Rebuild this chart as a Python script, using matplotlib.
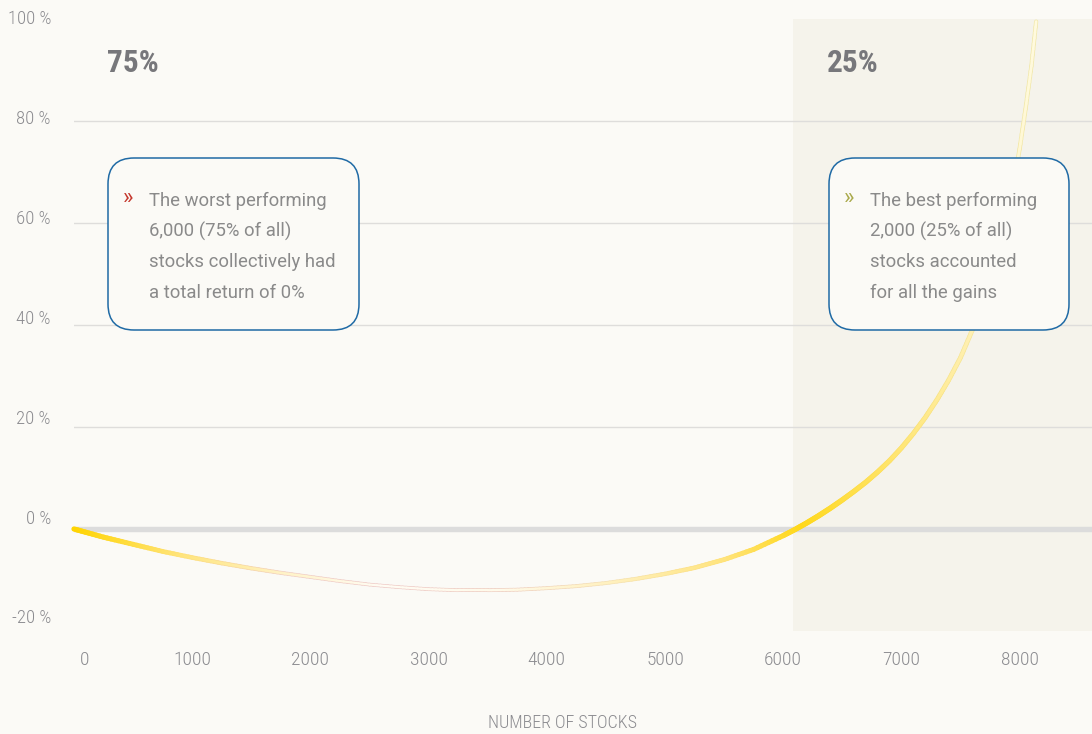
import numpy as np
import matplotlib
matplotlib.use("Agg")
import matplotlib.pyplot as plt
from matplotlib.collections import LineCollection
from matplotlib.patches import FancyBboxPatch
from matplotlib import font_manager as fm
from matplotlib.transforms import blended_transform_factory, ScaledTranslation

# ---------------- data ----------------
stocks = [0, 250, 500, 750, 1000, 1250, 1500, 1750, 2000, 2250, 2500, 2750, 3000, 3250, 3500,
          3750, 4000, 4250, 4500, 4750, 5000, 5250, 5500, 5750, 6000, 6100, 6200, 6300,
          6400, 6500, 6600, 6700, 6800, 6900, 7000, 7100, 7200, 7300, 7400, 7500, 7600,
          7700, 7800, 7900, 8000, 8050, 8100, 8140]
cum_return = [0.0, -1.6, -3.0, -4.4, -5.6, -6.7, -7.7, -8.6, -9.4, -10.2, -10.9, -11.4, -11.8, -12.0, -12.0,
              -11.9, -11.6, -11.2, -10.6, -9.8, -8.8, -7.6, -6.0, -4.0, -1.3, -0.1, 1.2, 2.6,
              4.1, 5.7, 7.4, 9.2, 11.2, 13.4, 15.9, 18.7, 21.8, 25.3, 29.2, 33.6, 39.0,
              44.8, 51.8, 61.5, 74.5, 82.3, 90.8, 99.5]
y_ticks = [100, 80, 60, 40, 20, 0, -20]
y_tick_labels = ["100 %", "80 %", "60 %", "40 %", "20 %", "0 %", "-20 %"]
x_ticks = [0, 1000, 2000, 3000, 4000, 5000, 6000, 7000, 8000]
x_tick_labels = ["0", "1000", "2000", "3000", "4000", "5000", "6000", "7000", "8000"]
split_at = 6080
x_label = "NUMBER OF STOCKS"
left_pct, right_pct = "75%", "25%"
left_note = ["The worst performing", "6,000 (75% of all)", "stocks collectively had", "a total return of 0%"]
right_note = ["The best performing", "2,000 (25% of all)", "stocks accounted", "for all the gains"]

# ---------------- fonts ----------------
names = {f.name for f in fm.fontManager.ttflist}
cond_fam = None
for cand in ["Roboto Condensed", "Liberation Sans Narrow", "Open Sans Condensed", "DejaVu Sans Condensed"]:
    if cand in names:
        cond_fam = cand
        break
cond_kw = {"family": [cond_fam, "DejaVu Sans"]} if cond_fam else {"family": ["DejaVu Sans"], "fontstretch": "condensed"}
body_fam = ["Roboto", "DejaVu Sans"]

BG = "#FBFAF6"
SHADE = "#F5F3EB"
GRID = "#DEDDDB"
ZERO = "#DCDCDC"
LBL = "#8C8C90"
TXT = "#8A8A8A"
BOX = "#1F6AA5"

W, H, DPI = 1092, 734, 100
fig = plt.figure(figsize=(W / DPI, H / DPI), dpi=DPI, facecolor=BG)

ax_left, ax_right, ax_top, ax_bot = 74, 1092, 19, 631
ax = fig.add_axes([ax_left / W, 1 - ax_bot / H, (ax_right - ax_left) / W, (ax_bot - ax_top) / H])
ax.set_facecolor(BG)
xmax = (ax_right - ax_left) / 118.2 * 1000
ax.set_xlim(0, xmax)
ax.set_ylim(-20, 100)
for s in ax.spines.values():
    s.set_visible(False)
ax.set_xticks([])
ax.set_yticks([])

ax.axvspan(split_at, xmax, color=SHADE, zorder=0, lw=0)
for v in y_ticks:
    if v in (20, 40, 60, 80):
        ax.axhline(v, color=GRID, lw=1.0, zorder=1)
ax.axhline(0, color=ZERO, lw=3.9, zorder=1)

# ---------------- gradient curve ----------------
xs = np.array(stocks, float)
ys = np.array(cum_return, float)
stop_x = [0, 900, 1800, 2600, 3600, 4600, 5500, 6150, 6900, 7600, 8140]
stop_c = ["#FFD400", "#FFE47A", "#FFF3C8", "#FFFCF4", "#FFFAEA", "#FFF0BC", "#FFE47E",
          "#FFD81A", "#FFE46A", "#FFF0B4", "#FFFADF"]
edge_c = ["#FFD400", "#FFE27A", "#F2D2C6", "#F0CFCB", "#F0D2C6", "#F6E3B4", "#FFE27A",
          "#FFD81A", "#FDE068", "#F5E7A0", "#F2E9AE"]

def rgb(h):
    h = h.lstrip("#")
    return np.array([int(h[i:i + 2], 16) / 255 for i in (0, 2, 4)])

sc = np.array([rgb(c) for c in stop_c])
se = np.array([rgb(c) for c in edge_c])

segs, cols, ecols, widths, ewidths = [], [], [], [], []
for i in range(len(xs) - 1):
    n = 8
    for k in range(n):
        t0, t1 = k / n, (k + 1) / n
        x0 = xs[i] + (xs[i + 1] - xs[i]) * t0
        x1 = xs[i] + (xs[i + 1] - xs[i]) * t1
        y0 = ys[i] + (ys[i + 1] - ys[i]) * t0
        y1 = ys[i] + (ys[i + 1] - ys[i]) * t1
        xm = (x0 + x1) / 2
        segs.append([(x0, y0), (x1, y1)])
        cols.append([np.interp(xm, stop_x, sc[:, j]) for j in range(3)])
        ecols.append([np.interp(xm, stop_x, se[:, j]) for j in range(3)])
        w = np.interp(xm, [0, 1500, 2500, 4500, 5800, 6300, 7500, 8140], [3.8, 3.0, 2.6, 2.8, 3.6, 3.9, 3.4, 3.0])
        ewidths.append(w)
        widths.append(w - 1.1)

lc_e = LineCollection(segs, colors=ecols, linewidths=ewidths, capstyle="round", zorder=3)
lc_e.set_clip_on(False)
ax.add_collection(lc_e)
lc = LineCollection(segs, colors=cols, linewidths=widths, capstyle="round", zorder=4)
lc.set_clip_on(False)
ax.add_collection(lc)

# ---------------- tick labels ----------------
ytr = blended_transform_factory(fig.transFigure, ax.transData)
for v, lab in zip(y_ticks, y_tick_labels):
    off = ScaledTranslation(0, ((100 - v) / 20 * 2.1) / DPI, fig.dpi_scale_trans)
    ax.text(51 / W, v, lab, transform=ytr + off, ha="right", va="center",
            fontsize=13.5, color=LBL, fontweight="light", **cond_kw)

xtr = blended_transform_factory(ax.transData, fig.transFigure)
for v, lab in zip(x_ticks, x_tick_labels):
    dx = 11 if v == 0 else 0
    off = ScaledTranslation(dx / DPI, 0, fig.dpi_scale_trans)
    ax.text(v, 1 - 660 / H, lab, transform=xtr + off, ha="center", va="center",
            fontsize=14, color=LBL, fontweight="light", **cond_kw)

fig.text(562 / W, 1 - 723 / H, x_label, ha="center", va="center", fontsize=13,
         color=LBL, fontweight="light", **cond_kw)

# ---------------- big percentages ----------------
fig.text(107 / W, 1 - 63 / H, left_pct, ha="left", va="center", fontsize=22.5,
         fontweight="bold", color="#77777B", **cond_kw)
fig.text(827 / W, 1 - 63 / H, right_pct, ha="left", va="center", fontsize=22.5,
         fontweight="bold", color="#77777B", **cond_kw)

# ---------------- note boxes ----------------
ov = fig.add_axes([0, 0, 1, 1], facecolor="none")
ov.set_xlim(0, W)
ov.set_ylim(H, 0)
ov.axis("off")

def note(x0, y0, x1, y1, lines, mark_color):
    p = FancyBboxPatch((x0, y0), x1 - x0, y1 - y0,
                       boxstyle="round,pad=0,rounding_size=26",
                       fc=BG, ec=BOX, lw=1.1, zorder=5)
    ov.add_patch(p)
    ov.text(x0 + 15, y0 + 41, "\u00bb", color=mark_color, fontsize=16, ha="left",
            va="center", family=body_fam, zorder=6)
    for i, line in enumerate(lines):
        ov.text(x0 + 41, y0 + 43 + i * 30.5, line, color=TXT, fontsize=13.3,
                ha="left", va="center", family=body_fam, zorder=6)

note(108, 158, 359, 330, left_note, "#C4372D")
note(829, 158, 1069, 330, right_note, "#A9A94A")

fig.savefig("out.png", dpi=DPI, facecolor=BG)
